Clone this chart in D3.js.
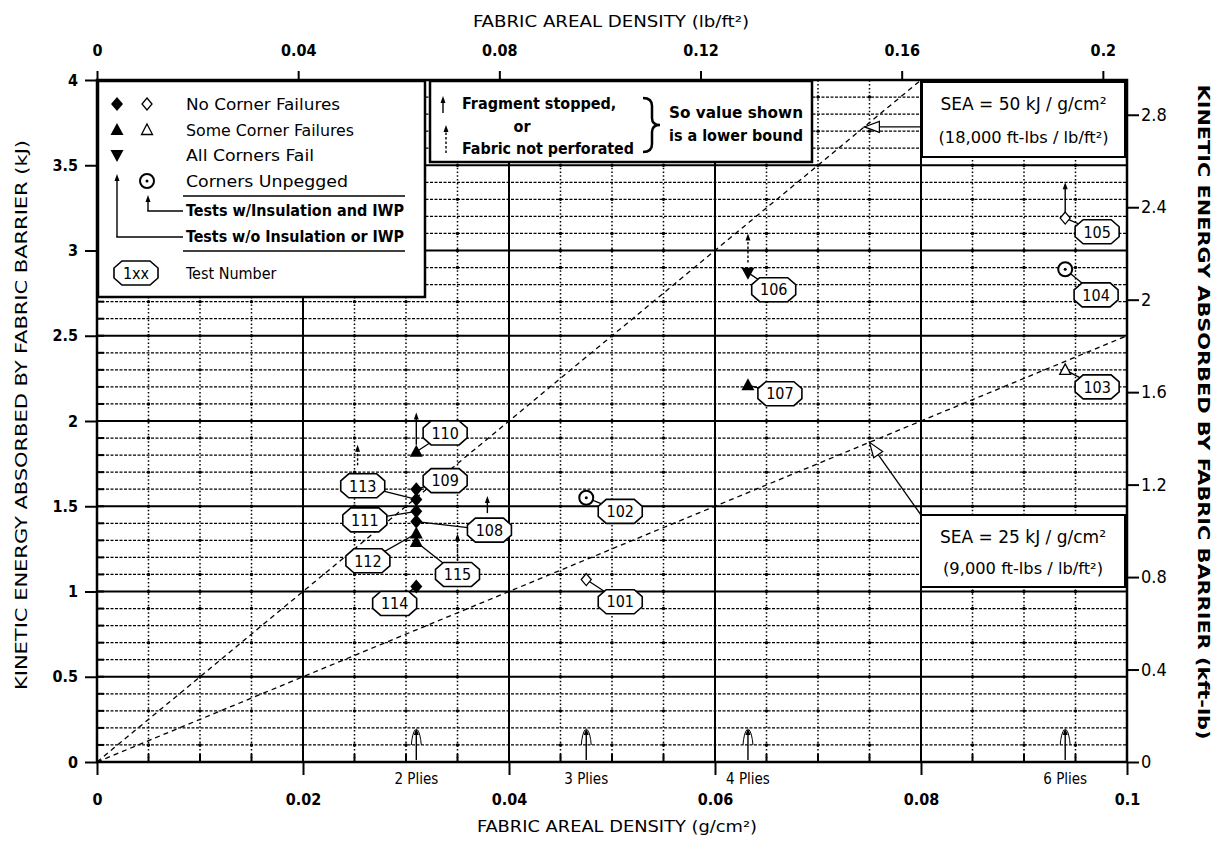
<!DOCTYPE html>
<html>
<head>
<meta charset="utf-8">
<script src="https://cdn.jsdelivr.net/npm/d3@7"></script>
<style>
  body { margin: 0; background: #fff; }
  text { font-family: 'Liberation Sans Narrow', 'DejaVu Sans Condensed', 'Arial Narrow', sans-serif; fill: #000; }
</style>
</head>
<body>
<div id="chart"></div>
<script>
// unit conversions for the second pair of axes
const LBFT2_PER_GCM2 = 2.048;
const KFTLB_PER_KJ = 0.7376;

// axis ticks
const xTicks = [0, 0.02, 0.04, 0.06, 0.08, 0.1];          // g/cm2
const yTicks = [0, 0.5, 1, 1.5, 2, 2.5, 3, 3.5, 4];       // kJ
const topTicks = [0, 0.04, 0.08, 0.12, 0.16, 0.2];        // lb/ft2
const rightTicks = [0, 0.4, 0.8, 1.2, 1.6, 2, 2.4, 2.8];  // kft-lb

// tests
const testIds   = ['101', '102', '103', '104', '105', '106', '107', '108', '109', '110', '111', '112', '113', '114', '115'];
const density   = [0.0475, 0.0475, 0.094, 0.094, 0.094, 0.0632, 0.0632, 0.031, 0.031, 0.031, 0.031, 0.031, 0.031, 0.031, 0.031];
const energy    = [1.07, 1.55, 2.30, 2.89, 3.19, 2.87, 2.21, 1.41, 1.60, 1.82, 1.47, 1.34, 1.54, 1.03, 1.29];
const markerType = ['openDiamond', 'unpegged', 'openTriangle', 'unpegged', 'openDiamond', 'allFail', 'someFail',
                    'noFail', 'noFail', 'someFail', 'noFail', 'someFail', 'noFail', 'noFail', 'someFail'];
// where each test number tag sits (data units)
const tagDensity = [0.0508, 0.0508, 0.0971, 0.0970, 0.0971, 0.0657, 0.0663, 0.0381, 0.0338, 0.0338, 0.0260, 0.0263, 0.0258, 0.0289, 0.0350];
const tagEnergy  = [0.94, 1.47, 2.20, 2.74, 3.11, 2.77, 2.16, 1.36, 1.65, 1.93, 1.42, 1.18, 1.62, 0.93, 1.10];

// lower-bound arrows
const boundKind    = ['stopped', 'notPerforated', 'stopped', 'stopped', 'notPerforated', 'notPerforated'];
const boundDensity = [0.094, 0.0632, 0.0379, 0.031, 0.0253, 0.035];
const boundFrom    = [3.21, 2.93, 1.46, 1.86, 1.74, 1.18];
const boundTo      = [3.40, 3.10, 1.56, 2.05, 1.86, 1.34];

// plies
const plyLabels  = ['2 Plies', '3 Plies', '4 Plies', '6 Plies'];
const plyDensity = [0.031, 0.0475, 0.0632, 0.094];

// specific energy absorption reference lines
const seaValues = [50, 25];   // kJ per g/cm2
const seaTitle  = ['SEA = 50 kJ / g/cm²', 'SEA = 25 kJ / g/cm²'];
const seaSub    = ['(18,000 ft-lbs / lb/ft²)', '(9,000 ft-lbs / lb/ft²)'];
const seaPointAt = [0.0745, 0.0750];

const width = 1220, height = 845;
const svg = d3.select('#chart').append('svg')
    .attr('width', width)
    .attr('height', height);
svg.append('rect').attr('width', width).attr('height', height).attr('fill', '#fff');

const x = d3.scaleLinear().domain([0, 0.1]).range([97, 1127]);
const y = d3.scaleLinear().domain([0, 4]).range([762, 80]);
const xTop = d3.scaleLinear().domain([0, 0.1 * LBFT2_PER_GCM2]).range(x.range());
const yRight = d3.scaleLinear().domain([0, 4 * KFTLB_PER_KJ]).range(y.range());

const isMult = (v, step) => Math.abs(v / step - Math.round(v / step)) < 1e-6;

// grid
const grid = svg.append('g');
const vLines = d3.range(1, 20).map(i => i * 0.005);
const hLines = d3.range(1, 40).map(i => i * 0.1);

grid.selectAll('line.v').data(vLines).enter().append('line')
    .attr('x1', d => x(d)).attr('x2', d => x(d))
    .attr('y1', y(0)).attr('y2', y(4))
    .attr('stroke', '#000')
    .attr('stroke-width', d => isMult(d, 0.02) ? 2 : 1.5)
    .attr('stroke-dasharray', d => isMult(d, 0.02) ? null : '1.5,2.3');

grid.selectAll('line.h').data(hLines).enter().append('line')
    .attr('x1', x(0)).attr('x2', x(0.1))
    .attr('y1', d => y(d)).attr('y2', d => y(d))
    .attr('stroke', '#000')
    .attr('stroke-width', d => isMult(d, 0.5) ? 2 : 1.3)
    .attr('stroke-dasharray', d => isMult(d, 0.5) ? null : '3,1.5');

// grid dots at crossings
const dotCols = vLines.filter(d => !isMult(d, 0.02));
const dots = [];
dotCols.forEach(cx => hLines.forEach((cy, i) => {
    if (isMult(cy, 0.5) || i % 2 === 0) dots.push([cx, cy]);
}));
grid.selectAll('circle').data(dots).enter().append('circle')
    .attr('cx', d => x(d[0])).attr('cy', d => y(d[1]))
    .attr('r', 1.7).attr('fill', '#000');

// SEA lines
const seaG = svg.append('g');
seaValues.forEach(s => {
    const xe = Math.min(0.1, 4 / s);
    seaG.append('line')
        .attr('x1', x(0)).attr('y1', y(0))
        .attr('x2', x(xe)).attr('y2', y(s * xe))
        .attr('stroke', '#000').attr('stroke-width', 1.3)
        .attr('stroke-dasharray', '5,4');
});

// frame
svg.append('rect')
    .attr('x', x(0)).attr('y', y(4))
    .attr('width', x(0.1) - x(0)).attr('height', y(0) - y(4))
    .attr('fill', 'none').attr('stroke', '#000').attr('stroke-width', 2.5);

// axes
const fmt = d => String(+d.toFixed(3));

const bottomAxis = svg.append('g')
    .attr('transform', `translate(0,${y(0)})`)
    .call(d3.axisBottom(x).tickValues(xTicks).tickSize(13).tickSizeOuter(0).tickPadding(19).tickFormat(fmt));
const leftAxis = svg.append('g')
    .attr('transform', `translate(${x(0)},0)`)
    .call(d3.axisLeft(y).tickValues(yTicks).tickSize(12).tickSizeOuter(0).tickPadding(7).tickFormat(fmt));
const topAxis = svg.append('g')
    .attr('transform', `translate(0,${y(4)})`)
    .call(d3.axisTop(xTop).tickValues(topTicks).tickSize(9).tickSizeOuter(0).tickPadding(15).tickFormat(fmt));
const rightAxis = svg.append('g')
    .attr('transform', `translate(${x(0.1)},0)`)
    .call(d3.axisRight(yRight).tickValues(rightTicks).tickSize(12).tickSizeOuter(0).tickPadding(2).tickFormat(fmt));

[bottomAxis, leftAxis, topAxis, rightAxis].forEach(a => {
    a.select('.domain').remove();
    a.selectAll('line').attr('stroke-width', 2);
    a.selectAll('text').attr('font-family', null);
});
[bottomAxis, leftAxis, topAxis].forEach(a => a.selectAll('text').attr('font-size', 16).attr('font-weight', 'bold'));
rightAxis.selectAll('text').attr('font-size', 18);

// minor ticks
svg.append('g').selectAll('line').data(vLines).enter().append('line')
    .attr('x1', d => x(d)).attr('x2', d => x(d))
    .attr('y1', y(0)).attr('y2', y(0) - 8)
    .attr('stroke', '#000').attr('stroke-width', 2);
svg.append('g').selectAll('line').data(hLines).enter().append('line')
    .attr('x1', x(0)).attr('x2', x(0) + 7)
    .attr('y1', d => y(d)).attr('y2', d => y(d))
    .attr('stroke', '#000').attr('stroke-width', 2);

// axis titles
svg.append('text')
    .attr('x', 617).attr('y', 832)
    .attr('text-anchor', 'middle').attr('font-size', 16)
    .attr('textLength', 280).attr('lengthAdjust', 'spacingAndGlyphs')
    .text('FABRIC AREAL DENSITY (g/cm²)');
svg.append('text')
    .attr('x', 611).attr('y', 27)
    .attr('text-anchor', 'middle').attr('font-size', 16)
    .attr('textLength', 276).attr('lengthAdjust', 'spacingAndGlyphs')
    .text('FABRIC AREAL DENSITY (lb/ft²)');
svg.append('text')
    .attr('transform', 'translate(27,415) rotate(-90)')
    .attr('text-anchor', 'middle').attr('font-size', 16)
    .attr('textLength', 550).attr('lengthAdjust', 'spacingAndGlyphs')
    .text('KINETIC ENERGY ABSORBED  BY FABRIC BARRIER (kJ)');
svg.append('text')
    .attr('transform', 'translate(1198,412) rotate(90)')
    .attr('text-anchor', 'middle').attr('font-size', 16).attr('font-weight', 'bold')
    .attr('textLength', 655).attr('lengthAdjust', 'spacingAndGlyphs')
    .text('KINETIC ENERGY ABSORBED BY FABRIC BARRIER (kft-lb)');

// marker shapes
function drawMarker(g, type, cx, cy) {
    const m = g.append('g').attr('transform', `translate(${cx},${cy})`);
    if (type === 'noFail') {
        m.append('path').attr('d', 'M0,-7L6,0L0,7L-6,0Z').attr('fill', '#000');
    } else if (type === 'openDiamond') {
        m.append('path').attr('d', 'M0,-6L5,0L0,6L-5,0Z').attr('fill', '#fff').attr('stroke', '#000').attr('stroke-width', 1.3);
    } else if (type === 'someFail') {
        m.append('path').attr('d', 'M0,-7L6.5,5L-6.5,5Z').attr('fill', '#000');
    } else if (type === 'openTriangle') {
        m.append('path').attr('d', 'M0,-6L5.5,4.5L-5.5,4.5Z').attr('fill', '#fff').attr('stroke', '#000').attr('stroke-width', 1.3);
    } else if (type === 'allFail') {
        m.append('path').attr('d', 'M-6.5,-5L6.5,-5L0,7Z').attr('fill', '#000');
    } else if (type === 'unpegged') {
        m.append('circle').attr('r', 7).attr('fill', '#fff').attr('stroke', '#000').attr('stroke-width', 2);
        m.append('circle').attr('r', 1.5).attr('fill', '#000');
    }
}

function upArrow(g, px, yFrom, yTo, dashed) {
    g.append('line')
        .attr('x1', px).attr('x2', px).attr('y1', yFrom).attr('y2', yTo + 3)
        .attr('stroke', '#000').attr('stroke-width', 1.4)
        .attr('stroke-dasharray', dashed ? '2.5,2' : null);
    g.append('path')
        .attr('d', `M${px},${yTo}L${px + 2.5},${yTo + 7}L${px - 2.5},${yTo + 7}Z`)
        .attr('fill', '#000');
}

function tag(g, cx, cy, label) {
    const w = 44, h = 24, c = 8, cv = 7;
    const t = g.append('g').attr('transform', `translate(${cx},${cy})`);
    t.append('path')
        .attr('d', `M${-w / 2 + c},${-h / 2}L${w / 2 - c},${-h / 2}L${w / 2},${-h / 2 + cv}L${w / 2},${h / 2 - cv}` +
                   `L${w / 2 - c},${h / 2}L${-w / 2 + c},${h / 2}L${-w / 2},${h / 2 - cv}L${-w / 2},${-h / 2 + cv}Z`)
        .attr('fill', '#fff').attr('stroke', '#000').attr('stroke-width', 1.6);
    t.append('text')
        .attr('text-anchor', 'middle').attr('dy', '0.36em')
        .attr('font-size', 16)
        .text(label);
}

// plies arrows
const plyG = svg.append('g');
plyDensity.forEach((d, i) => {
    const px = x(d);
    upArrow(plyG, px, y(0) - 2, y(0.2), false);
    plyG.append('path')
        .attr('d', `M${px - 5},${y(0.1)}Q${px - 4},${y(0.17)} ${px - 1},${y(0.19)}M${px + 5},${y(0.1)}Q${px + 4},${y(0.17)} ${px + 1},${y(0.19)}`)
        .attr('fill', 'none').attr('stroke', '#000').attr('stroke-width', 1);
    plyG.append('text')
        .attr('x', px).attr('y', 784)
        .attr('text-anchor', 'middle').attr('font-size', 15)
        .text(plyLabels[i]);
});

// leaders, bounds, markers, tags
const dataG = svg.append('g');
testIds.forEach((id, i) => {
    dataG.append('line')
        .attr('x1', x(density[i])).attr('y1', y(energy[i]))
        .attr('x2', x(tagDensity[i])).attr('y2', y(tagEnergy[i]))
        .attr('stroke', '#000').attr('stroke-width', 1.3);
});
boundKind.forEach((k, i) => {
    upArrow(dataG, x(boundDensity[i]), y(boundFrom[i]), y(boundTo[i]), k === 'notPerforated');
});
testIds.forEach((id, i) => drawMarker(dataG, markerType[i], x(density[i]), y(energy[i])));
testIds.forEach((id, i) => tag(dataG, x(tagDensity[i]), y(tagEnergy[i]), id));

// SEA boxes
const seaBoxes = [[922, 82, 203, 75], [921, 515, 204, 72]];
seaValues.forEach((s, i) => {
    const [bx, by, bw, bh] = seaBoxes[i];
    const tx = x(seaPointAt[i]), ty = y(s * seaPointAt[i]);
    const sx = bx, sy = i === 0 ? ty : by;
    svg.append('line')
        .attr('x1', sx).attr('y1', sy).attr('x2', tx).attr('y2', ty)
        .attr('stroke', '#000').attr('stroke-width', 1.3);
    const ang = Math.atan2(sy - ty, sx - tx);
    const a1 = ang + 0.35, a2 = ang - 0.35, L = 16;
    svg.append('path')
        .attr('d', `M${tx + L * Math.cos(a1)},${ty + L * Math.sin(a1)}L${tx},${ty}L${tx + L * Math.cos(a2)},${ty + L * Math.sin(a2)}Z`)
        .attr('fill', '#fff').attr('stroke', '#000').attr('stroke-width', 1.2);
    svg.append('rect')
        .attr('x', bx).attr('y', by).attr('width', bw).attr('height', bh)
        .attr('fill', '#fff').attr('stroke', '#000').attr('stroke-width', 2);
    svg.append('text')
        .attr('x', bx + bw / 2).attr('y', by + bh * 0.3).attr('dy', '0.35em')
        .attr('text-anchor', 'middle').attr('font-size', 17)
        .attr('textLength', 166).attr('lengthAdjust', 'spacingAndGlyphs')
        .text(seaTitle[i]);
    svg.append('text')
        .attr('x', bx + bw / 2).attr('y', by + bh * 0.74).attr('dy', '0.35em')
        .attr('text-anchor', 'middle').attr('font-size', 16)
        .attr('textLength', i === 0 ? 170 : 160).attr('lengthAdjust', 'spacingAndGlyphs')
        .text(seaSub[i]);
});

// legend: symbols
const leg = svg.append('g');
leg.append('rect').attr('x', 98).attr('y', 81).attr('width', 327).attr('height', 216)
    .attr('fill', '#fff').attr('stroke', '#000').attr('stroke-width', 2.5);
const legRows = [
    { y: 104, marks: ['noFail', 'openDiamond'], text: 'No Corner Failures', len: 154 },
    { y: 130, marks: ['someFail', 'openTriangle'], text: 'Some Corner Failures', len: 168 },
    { y: 155, marks: ['allFail'], text: 'All Corners Fail', len: 128 },
    { y: 181, marks: [null, 'unpegged'], text: 'Corners Unpegged', len: 162 }
];
legRows.forEach(r => {
    r.marks.forEach((m, j) => { if (m) drawMarker(leg, m, 117 + j * 30, r.y); });
    leg.append('text').attr('x', 186).attr('y', r.y).attr('dy', '0.35em')
        .attr('font-size', 16)
        .attr('textLength', r.len).attr('lengthAdjust', 'spacingAndGlyphs')
        .text(r.text);
});
upArrow(leg, 117, 237, 174, false);
leg.append('line').attr('x1', 116.3).attr('x2', 183).attr('y1', 237).attr('y2', 237).attr('stroke', '#000').attr('stroke-width', 1.4);
upArrow(leg, 148, 211, 195, false);
leg.append('line').attr('x1', 147.3).attr('x2', 183).attr('y1', 211).attr('y2', 211).attr('stroke', '#000').attr('stroke-width', 1.4);
leg.append('line').attr('x1', 183).attr('x2', 405).attr('y1', 196).attr('y2', 196).attr('stroke', '#000').attr('stroke-width', 1.4);
leg.append('line').attr('x1', 183).attr('x2', 405).attr('y1', 251).attr('y2', 251).attr('stroke', '#000').attr('stroke-width', 1.4);
leg.append('text').attr('x', 186).attr('y', 210).attr('dy', '0.35em').attr('font-size', 16).attr('font-weight', 'bold')
    .attr('textLength', 218).attr('lengthAdjust', 'spacingAndGlyphs')
    .text('Tests w/Insulation and IWP');
leg.append('text').attr('x', 186).attr('y', 236).attr('dy', '0.35em').attr('font-size', 16).attr('font-weight', 'bold')
    .attr('textLength', 218).attr('lengthAdjust', 'spacingAndGlyphs')
    .text('Tests w/o Insulation or IWP');
tag(leg, 136, 273, '1xx');
leg.append('text').attr('x', 186).attr('y', 273).attr('dy', '0.35em').attr('font-size', 16)
    .text('Test Number');

// legend: lower bound note
const note = svg.append('g');
note.append('rect').attr('x', 430).attr('y', 81).attr('width', 382).attr('height', 81)
    .attr('fill', '#fff').attr('stroke', '#000').attr('stroke-width', 2.5);
upArrow(note, 443, 113, 96, false);
upArrow(note, 446, 153, 125, true);
note.append('text').attr('x', 462).attr('y', 103).attr('dy', '0.35em').attr('font-size', 16).attr('font-weight', 'bold').text('Fragment stopped,');
note.append('text').attr('x', 522).attr('y', 126).attr('dy', '0.35em').attr('font-size', 16).attr('font-weight', 'bold').attr('text-anchor', 'middle').text('or');
note.append('text').attr('x', 462).attr('y', 148).attr('dy', '0.35em').attr('font-size', 16).attr('font-weight', 'bold')
    .attr('textLength', 172).attr('lengthAdjust', 'spacingAndGlyphs').text('Fabric not perforated');
note.append('path')
    .attr('d', 'M643,98q9,0 9,8v12q0,7 8,7q-8,0 -8,7v12q0,8 -9,8')
    .attr('fill', 'none').attr('stroke', '#000').attr('stroke-width', 2.5);
note.append('text').attr('x', 736).attr('y', 112).attr('dy', '0.35em').attr('font-size', 16).attr('font-weight', 'bold').attr('text-anchor', 'middle')
    .attr('textLength', 134).attr('lengthAdjust', 'spacingAndGlyphs').text('So value shown');
note.append('text').attr('x', 736).attr('y', 135).attr('dy', '0.35em').attr('font-size', 16).attr('font-weight', 'bold').attr('text-anchor', 'middle')
    .attr('textLength', 134).attr('lengthAdjust', 'spacingAndGlyphs').text('is a lower bound');
</script>
</body>
</html>
